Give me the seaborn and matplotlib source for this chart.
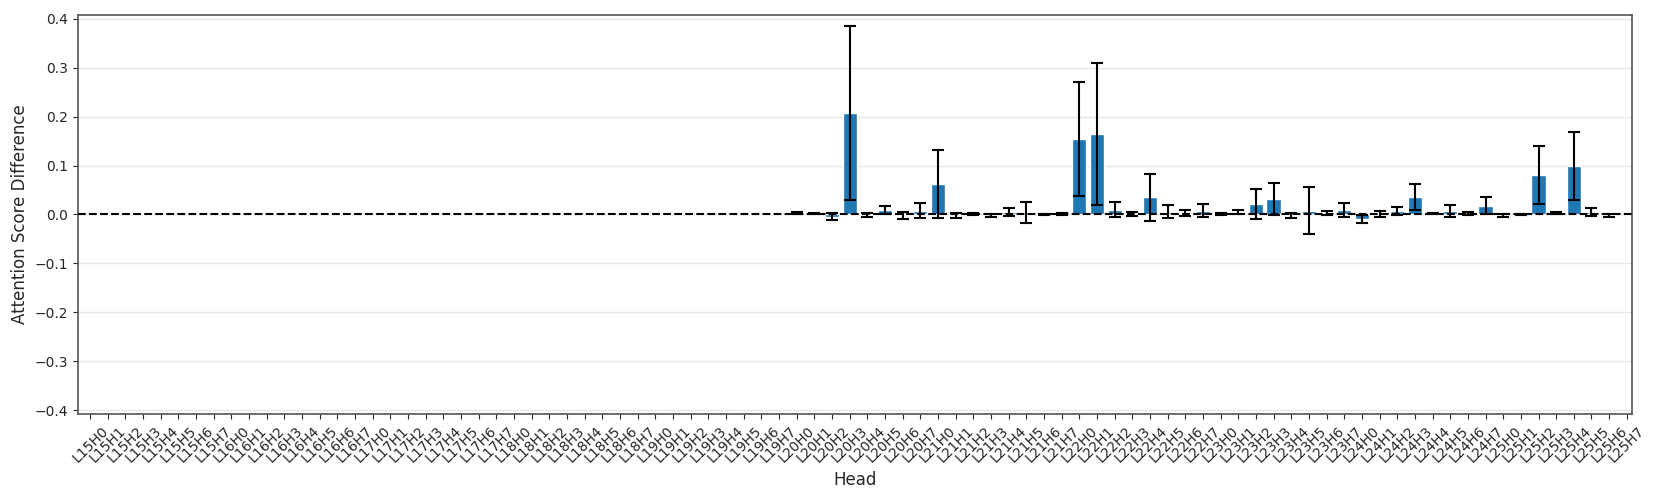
"""
Attention score difference per head (L15-L25), bar chart with error bars
"""
import numpy as np
import pandas as pd
import matplotlib
matplotlib.use("Agg")
import matplotlib.pyplot as plt
import seaborn as sns

# Data
layers = list(range(15, 26))
heads = list(range(8))
head_labels = [f"L{l}H{h}" for l in layers for h in heads]

# L15-L19 not measured -> NaN (no bar drawn)
nan8 = [np.nan] * 8
mean_l20 = [0.003, 0.002, -0.005, 0.208, -0.002, 0.009, -0.002, 0.008]
mean_l21 = [0.062, -0.002, 0.001, -0.002, 0.005, 0.004, 0.000, 0.001]
mean_l22 = [0.154, 0.164, 0.0095, 0.001, 0.035, 0.006, 0.003, 0.008]
mean_l23 = [0.001, 0.005, 0.022, 0.032, -0.002, 0.008, 0.003, 0.0085]
mean_l24 = [-0.009, 0.001, 0.007, 0.036, 0.001, 0.0075, 0.002, 0.018]
mean_l25 = [-0.002, -0.001, 0.081, 0.003, 0.099, 0.005, -0.002, np.nan]

err_l20 = [0.002, 0.001, 0.007, 0.178, 0.004, 0.009, 0.008, 0.015]
err_l21 = [0.070, 0.0055, 0.003, 0.003, 0.009, 0.021, 0.0005, 0.002]
err_l22 = [0.117, 0.145, 0.015, 0.004, 0.048, 0.0126, 0.0055, 0.014]
err_l23 = [0.003, 0.005, 0.031, 0.033, 0.006, 0.048, 0.005, 0.014]
err_l24 = [0.008, 0.0065, 0.0085, 0.026, 0.001, 0.012, 0.003, 0.017]
err_l25 = [0.003, 0.001, 0.059, 0.003, 0.069, 0.0085, 0.003, np.nan]

means = nan8 * 5 + mean_l20 + mean_l21 + mean_l22 + mean_l23 + mean_l24 + mean_l25
errors = nan8 * 5 + err_l20 + err_l21 + err_l22 + err_l23 + err_l24 + err_l25

df = pd.DataFrame({"head": head_labels, "diff": means, "err": errors})

# Style
sns.set_style("ticks")
plt.rcParams['font.family'] = ['DejaVu Sans']

fig, ax = plt.subplots(figsize=(16.61, 4.98), dpi=100)
fig.subplots_adjust(left=0.047, right=0.9824, top=0.970, bottom=0.1687)

sns.barplot(data=df, x="head", y="diff", order=head_labels, color="#1f77b4",
            saturation=1, width=0.8, errorbar=None, ax=ax, zorder=2)
ax.errorbar(np.arange(len(head_labels)), df["diff"], yerr=df["err"],
            fmt="none", ecolor="black", elinewidth=1.5, capsize=4.3,
            capthick=1.5, zorder=3)

ax.axhline(0, color="black", linestyle="--", linewidth=1.5, zorder=4)

ax.set_ylim(-0.408, 0.408)
ax.set_xlim(-0.68, 87.28)
ax.set_yticks(np.arange(-0.4, 0.41, 0.1))
ax.yaxis.grid(True, color="#e6e6e6", linewidth=1)
ax.set_axisbelow(True)

ax.set_xlabel("Head", fontsize=12)
ax.set_ylabel("Attention Score Difference", fontsize=12)
ax.tick_params(axis="x", labelrotation=45, labelsize=10)
ax.tick_params(axis="y", labelsize=10)
for lbl in ax.get_xticklabels():
    lbl.set_horizontalalignment("center")

for spine in ax.spines.values():
    spine.set_visible(True)
    spine.set_color("#555555")
    spine.set_linewidth(1.2)

plt.savefig("out.png", dpi=100)
plt.close()
